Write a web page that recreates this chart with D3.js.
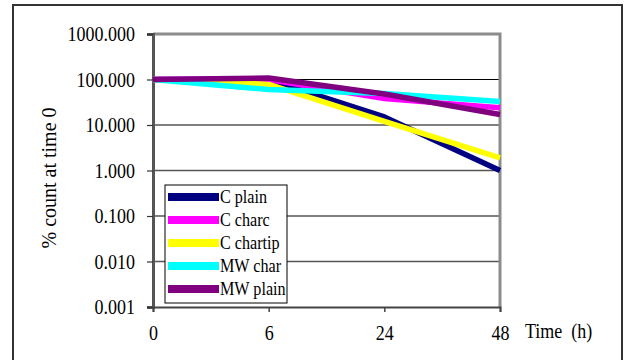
<!DOCTYPE html>
<meta charset="utf-8">
<html>
<head>
  <title>Survival over time</title>
  <script src="https://cdn.jsdelivr.net/npm/d3@7"></script>
  <style>
    body { margin: 0; background-color: white; }
    svg text { font-family: "Times New Roman", "Liberation Serif", "DejaVu Serif", serif !important; fill: #000; }
  </style>
</head>
<body>
  <div id="my_dataviz"></div>
<script>

  // data
  var times = ["0", "6", "24", "48"];
  var seriesNames = ["C plain", "C charc", "C chartip", "MW char", "MW plain"];
  var seriesColors = ["#000080", "#ff00ff", "#ffff00", "#00ffff", "#800080"];
  var cPlain   = [100, 100, 15, 1.0];
  var cCharc   = [100, 100, 38, 24];
  var cChartip = [100, 78, 12, 1.9];
  var mwChar   = [100, 60, 49, 33];
  var mwPlain  = [100, 108, 48, 17];
  var yTicks = [0.001, 0.01, 0.1, 1, 10, 100, 1000];

  var allSeries = [cPlain, cCharc, cChartip, mwChar, mwPlain];

  var W = 626, H = 360;
  var margin = {top: 34, right: 126, bottom: 53, left: 153},
      width = W - margin.left - margin.right,
      height = H - margin.top - margin.bottom;

  var root = d3.select("#my_dataviz")
    .append("svg")
      .attr("width", W)
      .attr("height", H);

  // outer chart border (bottom runs off the picture)
  root.append("rect")
    .attr("x", 13).attr("y", 5)
    .attr("width", 609).attr("height", 370)
    .attr("fill", "white")
    .attr("stroke", "#333").attr("stroke-width", 2);

  var svg = root.append("g")
    .attr("transform", "translate(" + margin.left + "," + margin.top + ")");

  var x = d3.scalePoint()
    .domain(times)
    .range([0, width]);

  var y = d3.scaleLog()
    .domain([0.001, 1000])
    .range([height, 0]);

  // gridlines
  svg.append("g")
    .selectAll("line")
    .data(yTicks.slice(1, -1))
    .enter().append("line")
      .attr("x1", 0).attr("x2", width)
      .attr("y1", function(d) { return y(d); })
      .attr("y2", function(d) { return y(d); })
      .attr("stroke", function(d) { return d == 100 ? "#000" : "#555"; })
      .attr("stroke-width", function(d) { return d == 100 ? 1 : 1.5; });

  // plot area frame: gray top and right
  svg.append("path")
    .attr("d", "M0,0H" + width + "V" + height)
    .attr("fill", "none")
    .attr("stroke", "#8c8c8c")
    .attr("stroke-width", 3);

  // stretch text a bit taller, like the original
  function tall(sel, sx) {
    sel.each(function() {
      var t = d3.select(this);
      var tx = +t.attr("x") || 0, ty = +t.attr("y") || 0;
      t.attr("x", 0).attr("y", 0)
       .attr("transform", "translate(" + tx + "," + ty + ") scale(" + (sx || 1) + ",1.14)");
    });
  }

  // Y axis
  var yAxis = svg.append("g")
    .call(d3.axisLeft(y)
      .tickValues(yTicks)
      .tickSize(6)
      .tickPadding(12)
      .tickFormat(d3.format(".3f")));
  yAxis.select(".domain").attr("stroke", "#555").attr("stroke-width", 3);
  yAxis.selectAll(".tick line").attr("stroke", "#333").attr("stroke-width", 1.2);
  yAxis.selectAll("text").style("font-size", "18px").attr("dy", "0.33em").call(tall);

  // X axis
  var xAxis = svg.append("g")
    .attr("transform", "translate(0," + height + ")")
    .call(d3.axisBottom(x).tickSize(5).tickPadding(13));
  xAxis.select(".domain").attr("stroke", "#444").attr("stroke-width", 2);
  xAxis.selectAll(".tick line").attr("stroke", "#444").attr("stroke-width", 1.5);
  xAxis.selectAll("text").style("font-size", "18px").call(tall);

  // axis titles
  svg.append("text")
    .attr("transform", "translate(" + (56 - margin.left) + "," + (178 - margin.top) + ")rotate(-90)")
    .attr("text-anchor", "middle")
    .style("font-size", "20px")
    .text("% count at time 0");

  svg.append("text")
    .attr("x", 525 - margin.left)
    .attr("y", 338 - margin.top)
    .style("font-size", "18px")
    .style("white-space", "pre")
    .text("Time  (h)")
    .call(tall);

  // lines, later series drawn on top
  var line = d3.line()
    .x(function(d, i) { return x(times[i]); })
    .y(function(d) { return y(d); });

  svg.append("g")
    .selectAll("path")
    .data(allSeries)
    .enter().append("path")
      .attr("d", line)
      .attr("fill", "none")
      .attr("stroke", function(d, i) { return seriesColors[i]; })
      .attr("stroke-width", 5.5)
      .attr("stroke-linejoin", "round");

  // legend
  var legend = root.append("g")
    .attr("transform", "translate(165,185)");

  legend.append("rect")
    .attr("width", 122).attr("height", 118)
    .attr("fill", "white")
    .attr("stroke", "#000").attr("stroke-width", 1);

  var items = legend.selectAll(".item")
    .data(seriesNames)
    .enter().append("g")
      .attr("transform", function(d, i) { return "translate(0," + (12 + i * 23) + ")"; });

  items.append("rect")
    .attr("x", 3).attr("y", -4)
    .attr("width", 51).attr("height", 8)
    .attr("fill", function(d, i) { return seriesColors[i]; });

  items.append("text")
    .attr("x", 55)
    .attr("dy", "0.33em")
    .style("font-size", "17px")
    .text(function(d) { return d; })
    .call(tall, 0.95);

</script>
</body>
</html>
